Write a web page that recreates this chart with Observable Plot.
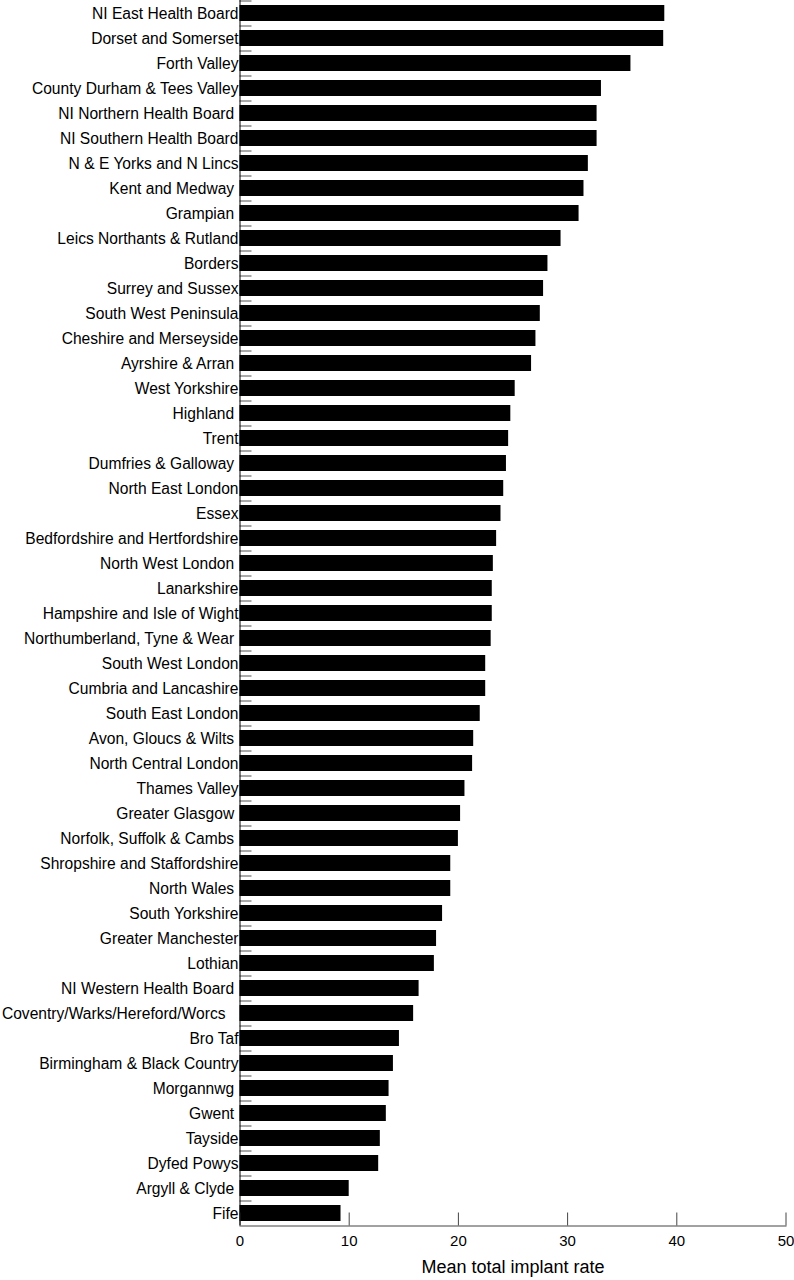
<!DOCTYPE html>
<html>
<head>
<meta charset="utf-8">
<script src="https://cdn.jsdelivr.net/npm/d3@7"></script>
<script src="https://cdn.jsdelivr.net/npm/@observablehq/plot@0.6"></script>
<style>
  html, body { margin: 0; padding: 0; background: #fff; }
  #chart svg text { white-space: pre; }
</style>
</head>
<body>
<div id="chart"></div>
<script>
const regions = [
  "NI East Health Board", "Dorset and Somerset", "Forth Valley", "County Durham & Tees Valley",
  "NI Northern Health Board ", "NI Southern Health Board", "N & E Yorks and N Lincs", "Kent and Medway ",
  "Grampian ", "Leics Northants & Rutland", "Borders", "Surrey and Sussex", "South West Peninsula",
  "Cheshire and Merseyside", "Ayrshire & Arran ", "West Yorkshire", "Highland ", "Trent",
  "Dumfries & Galloway ", "North East London", "Essex", "Bedfordshire and Hertfordshire",
  "North West London ", "Lanarkshire", "Hampshire and Isle of Wight", "Northumberland, Tyne & Wear ",
  "South West London", "Cumbria and Lancashire", "South East London", "Avon, Gloucs & Wilts ",
  "North Central London", "Thames Valley", "Greater Glasgow ", "Norfolk, Suffolk & Cambs ",
  "Shropshire and Staffordshire", "North Wales ", "South Yorkshire", "Greater Manchester", "Lothian",
  "NI Western Health Board ", "Coventry/Warks/Hereford/Worcs   ", "Bro Taf", "Birmingham & Black Country",
  "Morgannwg ", "Gwent ", "Tayside", "Dyfed Powys", "Argyll & Clyde ", "Fife"
];
const rates = [
  38.9, 38.8, 35.8, 33.1,
  32.7, 32.7, 31.9, 31.5,
  31.05, 29.4, 28.2, 27.8, 27.5,
  27.1, 26.7, 25.2, 24.8, 24.6,
  24.4, 24.15, 23.9, 23.5,
  23.2, 23.1, 23.1, 23.0,
  22.5, 22.5, 22.0, 21.4,
  21.3, 20.6, 20.2, 20.0,
  19.3, 19.3, 18.55, 18.0, 17.8,
  16.4, 15.9, 14.6, 14.05,
  13.65, 13.4, 12.85, 12.7, 10.0, 9.25
];
const xTicks = [0, 10, 20, 30, 40, 50];
const xLabel = "Mean total implant rate";

const data = regions.map((r, i) => ({region: r, rate: rates[i]}));

const chart = Plot.plot({
  width: 794,
  height: 1280,
  marginTop: 0,
  marginRight: 8.5,
  marginBottom: 54.5,
  marginLeft: 239.5,
  style: {fontFamily: "'Liberation Sans', Arial, Helvetica, sans-serif", background: "#fff", color: "#000"},
  x: {domain: [0, 50]},
  y: {domain: regions, paddingInner: 0.38, paddingOuter: 0.19, align: 0.5},
  marks: [
    Plot.axisY({tickSize: 0, tickPadding: 1.5, fontSize: 15.6, label: null, fill: "#000"}),
    Plot.axisY({text: null, tickSize: 12, dx: 12, dy: -12.5, stroke: "#555", label: null}),
    Plot.barX(data, {x: "rate", y: "region", fill: "#000"}),
    Plot.axisX({ticks: xTicks, tickSize: 13, dy: -13, text: null, label: null, stroke: "#444"}),
    Plot.axisX({ticks: xTicks, tickSize: 0, tickPadding: 9, fontSize: 15, label: null, fill: "#000"}),
    Plot.text([xLabel], {frameAnchor: "bottom", dy: 47, fontSize: 18, fill: "#000"}),
    Plot.ruleX([0], {stroke: "#000"}),
    Plot.frame({anchor: "bottom", stroke: "#444"})
  ]
});
document.getElementById("chart").appendChild(chart);
</script>
</body>
</html>
